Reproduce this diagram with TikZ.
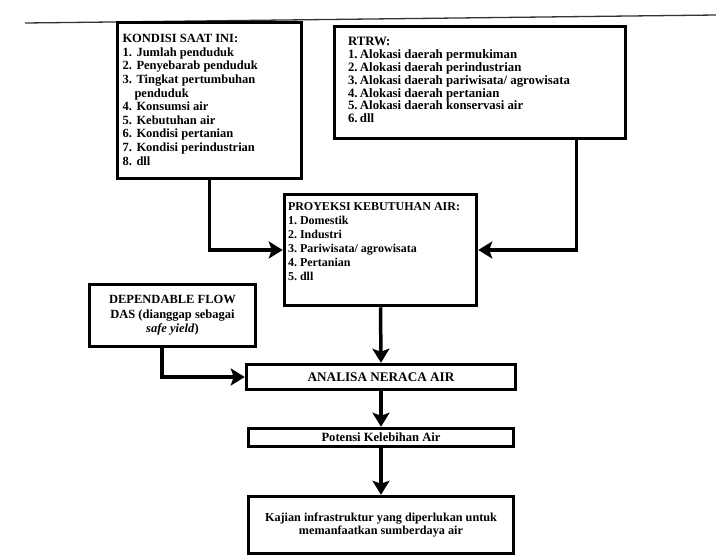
\documentclass[tikz,border=0pt]{standalone}
\usepackage{fontspec}
\setmainfont{Liberation Serif}
\usetikzlibrary{arrows.meta,calc}
% numbered entry: fixed-width number column followed by the text
\newcommand{\nitem}[3]{\noindent\makebox[#1][l]{#2}#3\par}

\begin{document}
\begin{tikzpicture}[x=1pt,y=-1pt,
  box/.style={draw, line width=3.5pt, inner sep=0pt, font=\bfseries},
  flow/.style={line width=3.5pt, -{Stealth[length=14pt,width=17pt,inset=3pt]}}
]
\useasboundingbox (0,0) rectangle (716,560);

% rule along the top of the page
\draw[line width=1.3pt, black!80] (25,23) -- (716,15);

% current conditions
\node[box, font=\bfseries\fontsize{12.5}{13.6}\selectfont,
      inner xsep=5pt, inner ysep=12pt] (kondisi) at (209.5,100.5)
{\begin{minipage}[c][132pt][t]{174pt}
\noindent KONDISI SAAT INI:\par
\nitem{14pt}{1.}{Jumlah penduduk}
\nitem{14pt}{2.}{Penyebarab penduduk}
\nitem{14pt}{3.}{Tingkat pertumbuhan}
\noindent\hspace*{12pt}penduduk\par
\nitem{14pt}{4.}{Konsumsi air}
\nitem{14pt}{5.}{Kebutuhan air}
\nitem{14pt}{6.}{Kondisi pertanian}
\nitem{14pt}{7.}{Kondisi perindustrian}
\nitem{14pt}{8.}{dll}
\end{minipage}};

% spatial plan
\node[box, font=\bfseries\fontsize{12.8}{12.8}\selectfont,
      inner xsep=13.5pt, inner ysep=11pt] (rtrw) at (480,82.5)
{\begin{minipage}[c][90pt][t]{264pt}
\noindent RTRW:\par
\nitem{12pt}{1.}{Alokasi daerah permukiman}
\nitem{12pt}{2.}{Alokasi daerah perindustrian}
\nitem{12pt}{3.}{Alokasi daerah pariwisata/ agrowisata}
\nitem{12pt}{4.}{Alokasi daerah pertanian}
\nitem{12pt}{5.}{Alokasi daerah konservasi air}
\nitem{12pt}{6.}{dll}
\end{minipage}};

% projected water demand
\node[box, font=\bfseries\fontsize{12}{14}\selectfont,
      inner xsep=3.5pt, inner ysep=8pt] (proyeksi) at (380.5,250)
{\begin{minipage}[c][95pt][t]{185pt}
\noindent PROYEKSI KEBUTUHAN AIR:\par
\nitem{12pt}{1.}{Domestik}
\nitem{12pt}{2.}{Industri}
\nitem{12pt}{3.}{Pariwisata/ agrowisata}
\nitem{12pt}{4.}{Pertanian}
\nitem{12pt}{5.}{dll}
\end{minipage}};

% available flow
\node[box, align=center, minimum width=166pt, minimum height=62pt,
      font=\bfseries\fontsize{12.5}{14.5}\selectfont] (dep) at (172.5,315.5)
{DEPENDABLE FLOW\\DAS (dianggap sebagai\\\textit{safe yield})};

% balance and results
\node[box, minimum width=269pt, minimum height=25pt,
      font=\bfseries\fontsize{13.2}{14}\selectfont] (analisa) at (381,377) {ANALISA NERACA AIR};
\node[box, minimum width=265pt, minimum height=18pt,
      font=\bfseries\fontsize{12.6}{13}\selectfont] (potensi) at (381,437.5) {Potensi Kelebihan Air};
\node[box, minimum width=265pt, minimum height=57pt,
      font=\bfseries\fontsize{12.2}{13}\selectfont] (kajian) at (381,525)
{\raisebox{-5pt}{\begin{tabular}{@{}c@{}}Kajian infrastruktur yang diperlukan untuk\\memanfaatkan sumberdaya air\end{tabular}}};

% connectors
\draw[flow] (kondisi.south) |- (proyeksi.west);
\draw[flow] ($(rtrw.south east)+(-51,0)$) |- (proyeksi.east);
\draw[flow] ($(dep.south west)+(74,0)$) |- (analisa.west);
\draw[flow] (proyeksi.south) -- (analisa.north);
\draw[flow] (analisa.south) -- (potensi.north);
\draw[flow] (potensi.south) -- (kajian.north);
\end{tikzpicture}
\end{document}
